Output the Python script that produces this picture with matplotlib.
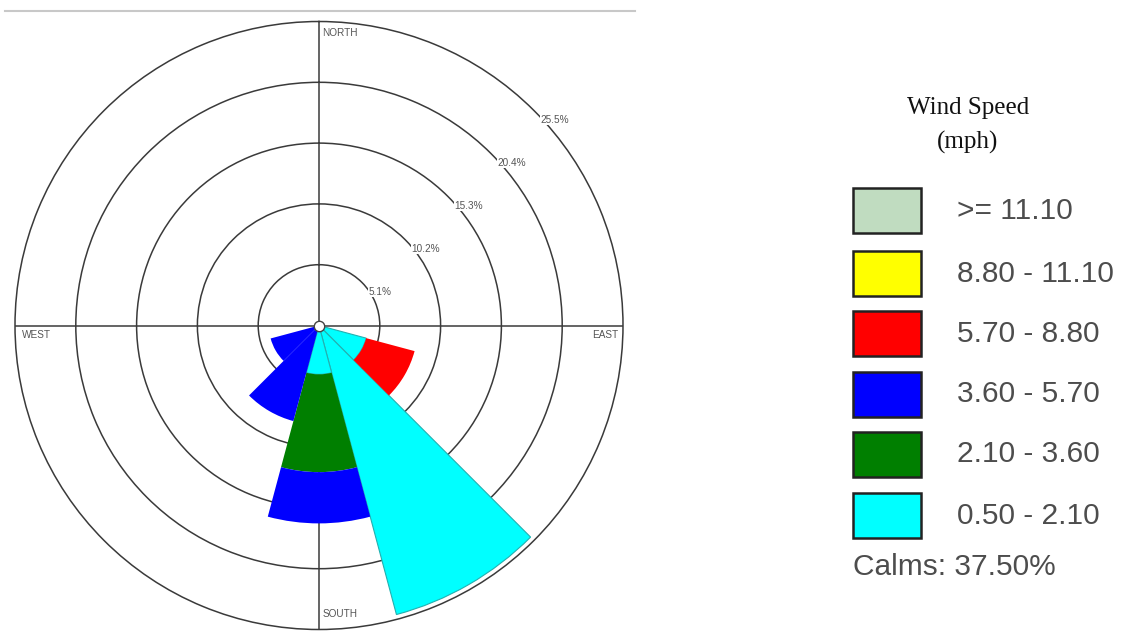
import numpy as np
import matplotlib
matplotlib.use("Agg")
import matplotlib.pyplot as plt
from matplotlib.patches import Rectangle
from matplotlib.lines import Line2D

# ---------------- data ----------------
directions = [0, 30, 60, 90, 120, 150, 180, 210, 240, 270, 300, 330]
speed_bins = ["0.50 - 2.10", "2.10 - 3.60", "3.60 - 5.70",
              "5.70 - 8.80", "8.80 - 11.10", ">= 11.10"]
bin_colors = ["#00FFFF", "#007F00", "#0000FF", "#FF0000", "#FFFF00", "#C0DCC0"]
freq_0_5_2_1 = [0, 0, 0, 0, 4.1, 25.1, 4.1, 0, 0, 0, 0, 0]
freq_2_1_3_6 = [0, 0, 0, 0, 0, 0, 8.2, 0, 0, 0, 0, 0]
freq_3_6_5_7 = [0, 0, 0, 0, 0, 0, 4.3, 8.3, 4.2, 0, 0, 0]
freq_5_7_8_8 = [0, 0, 0, 0, 4.2, 0, 0, 0, 0, 0, 0, 0]
freq_8_8_11_1 = [0] * 12
freq_ge_11_1 = [0] * 12
ring_values = [5.1, 10.2, 15.3, 20.4, 25.5]
compass_labels = ["NORTH", "EAST", "SOUTH", "WEST"]
calms_pct = 37.50

series = [freq_0_5_2_1, freq_2_1_3_6, freq_3_6_5_7,
          freq_5_7_8_8, freq_8_8_11_1, freq_ge_11_1]

# ---------------- figure ----------------
W, H = 1142, 631
fig = plt.figure(figsize=(W / 100, H / 100), dpi=100)
fig.patch.set_facecolor("white")

def fx(x):
    return x / W

def fy(y):
    return 1 - y / H

cx, cy, R = 319, 325.5, 304
ax = fig.add_axes([fx(cx - R), fy(cy + R), 2 * R / W, 2 * R / H],
                  projection="polar")
ax.set_theta_zero_location("N")
ax.set_theta_direction(-1)
ax.set_ylim(0, ring_values[-1])
ax.set_rticks(ring_values[:-1])
ax.set_yticklabels([])
ax.set_xticks(np.radians([0, 90, 180, 270]))
ax.set_xticklabels([])
ax.set_axisbelow(True)
ax.grid(True, color="#3a3a3a", lw=1.1)
ax.spines["polar"].set_color("#3a3a3a")
ax.spines["polar"].set_linewidth(1.1)
ax.tick_params(length=0, pad=0)

theta = np.radians(directions)
width = np.radians(30)
bottom = np.zeros(len(directions))
for vals, col in zip(series, bin_colors):
    v = np.array(vals, dtype=float)
    m = v > 0
    if m.any():
        if col == "#00FFFF":
            ax.bar(theta[m], v[m], width=width, bottom=bottom[m], color=col,
                   edgecolor="#22b0b0", linewidth=0.8, zorder=2)
        else:
            ax.bar(theta[m], v[m], width=width, bottom=bottom[m], color=col,
                   linewidth=0, zorder=2)
    bottom += v

# calm circle at centre
ax.plot([0], [0], marker="o", ms=7.5, mfc="white", mec="#444444",
        mew=1.0, zorder=6, clip_on=False)

# ring labels
for r in ring_values:
    ax.annotate(f"{r}%", xy=(np.radians(45), r), xytext=(4.5, -6.5),
                textcoords="offset points", ha="left", va="center",
                fontsize=7.2, color="#555555", family="Liberation Sans",
                bbox=dict(fc="white", ec="none", pad=0.4),
                annotation_clip=False, zorder=5)

# compass labels
rmax = ring_values[-1]
comp_pos = {"NORTH": (0, (2.2, -8.6), "left"),
            "EAST": (90, (-3.6, -6.5), "right"),
            "SOUTH": (180, (2.9, 11.5), "left"),
            "WEST": (270, (5.0, -6.5), "left")}
for lab in compass_labels:
    ang, off, ha = comp_pos[lab]
    ax.annotate(lab, xy=(np.radians(ang), rmax), xytext=off,
                textcoords="offset points", ha=ha, va="center",
                fontsize=7.2, color="#555555", family="Liberation Sans",
                annotation_clip=False, zorder=5)

# top rule
fig.add_artist(Line2D([fx(5), fx(635)], [fy(11), fy(11)],
                      color="#c8c8c8", lw=1.5))

# ---------------- legend ----------------
fig.text(fx(968), fy(108), "Wind Speed", ha="center", va="center",
         fontsize=18, family="Liberation Serif", color="#111111")
fig.text(fx(968), fy(142), "(mph)", ha="center", va="center",
         fontsize=18, family="Liberation Serif", color="#111111")

box_tops = [188, 251, 311, 372, 432, 493]
box_h = 45
box_x0, box_x1 = 853, 921
for i, (lab, col) in enumerate(zip(speed_bins[::-1], bin_colors[::-1])):
    top = box_tops[i]
    fig.add_artist(Rectangle((fx(box_x0), fy(top + box_h)),
                             (box_x1 - box_x0) / W, box_h / H,
                             transform=fig.transFigure, facecolor=col,
                             edgecolor="#222222", lw=1.8))
    fig.text(fx(957), fy(top + box_h / 2), lab, ha="left", va="center",
             fontsize=21.5, family="Liberation Sans", color="#4d4d4d")

fig.text(fx(853), fy(567), f"Calms: {calms_pct:.2f}%", ha="left", va="center",
         fontsize=21.5, family="Liberation Sans", color="#4d4d4d")

fig.savefig("out.png", dpi=100, facecolor="white")
